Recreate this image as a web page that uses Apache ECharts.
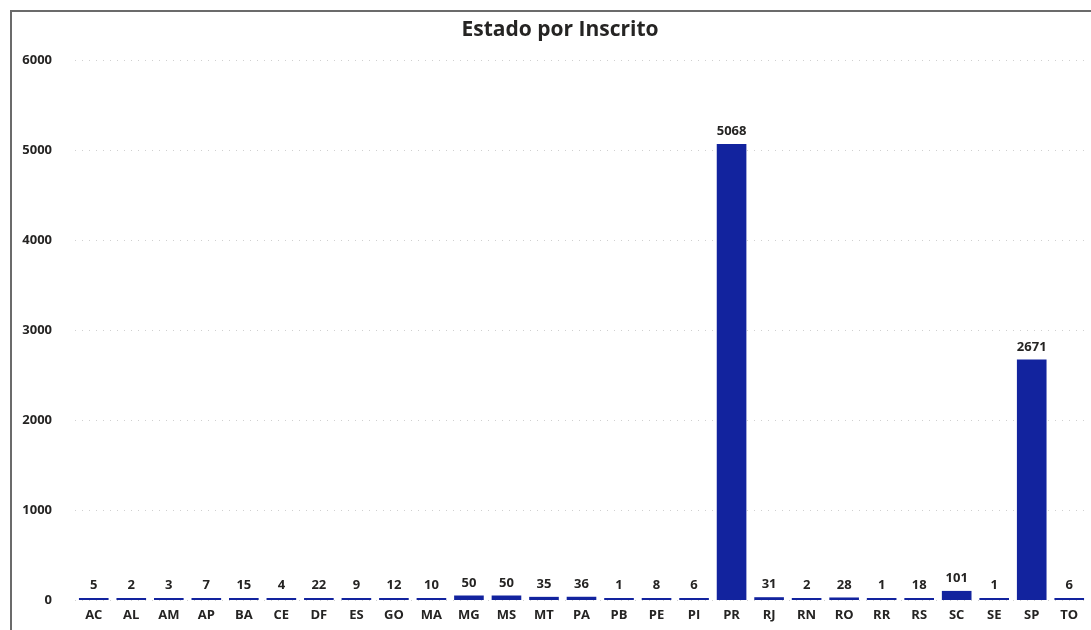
<!DOCTYPE html>
<html>
<head>
<meta charset="utf-8">
<script src="https://cdn.jsdelivr.net/npm/echarts@6/dist/echarts.min.js"></script>
<style>
html,body{margin:0;padding:0;background:#fff;overflow:hidden;}
#frame{position:absolute;left:10px;top:10px;width:1200px;height:700px;border-top:2px solid #6b6b6b;border-left:2px solid #6b6b6b;box-sizing:border-box;}
#chart{position:absolute;left:0;top:0;width:1091px;height:630px;}
</style>
</head>
<body>
<div id="frame"></div>
<div id="chart"></div>
<script>
const categories = ['AC','AL','AM','AP','BA','CE','DF','ES','GO','MA','MG','MS','MT','PA','PB','PE','PI','PR','RJ','RN','RO','RR','RS','SC','SE','SP','TO'];
const inscritos = [5,2,3,7,15,4,22,9,12,10,50,50,35,36,1,8,6,5068,31,2,28,1,18,101,1,2671,6];
const yTicks = [0,1000,2000,3000,4000,5000,6000];
const titleText = 'Estado por Inscrito';

const chart = echarts.init(document.getElementById('chart'), null, {renderer:'canvas'});
const font = 'Open Sans';
chart.setOption({
  animation:false,
  title:{text:titleText,left:555,textAlign:'center',top:15,textStyle:{fontFamily:font,fontWeight:'bold',fontSize:21,color:'#252423'}},
  grid:{left:75,right:3,top:60,bottom:30,containLabel:false},
  xAxis:{type:'category',data:categories,
    axisLine:{show:false},axisTick:{show:false},
    axisLabel:{margin:9,fontFamily:font,fontWeight:'bold',fontSize:13,color:'#252423',interval:0}},
  yAxis:{type:'value',min:yTicks[0],max:yTicks[yTicks.length-1],interval:1000,
    axisLine:{show:false},axisTick:{show:false},
    axisLabel:{margin:23,fontFamily:font,fontWeight:'bold',fontSize:13,color:'#252423',formatter:v=>String(v)},
    splitLine:{show:true,lineStyle:{color:'#d0d0d0',type:[1,6],width:1}}},
  series:[{type:'bar',data:inscritos,barCategoryGap:'21%',barMinHeight:2,
    itemStyle:{color:'#12239E'},
    label:{show:true,position:'top',distance:6,fontFamily:font,fontWeight:'bold',fontSize:13,color:'#252423'}}]
});
</script>
</body>
</html>
